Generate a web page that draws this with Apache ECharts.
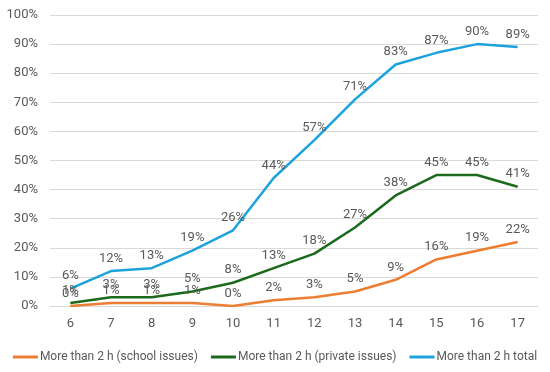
<!DOCTYPE html>
<html><head><meta charset="utf-8">
<script src="https://cdn.jsdelivr.net/npm/echarts@6/dist/echarts.min.js"></script>
<style>html,body{margin:0;padding:0;background:#fff}#c{width:550px;height:372px}</style>
</head><body><div id="c"></div>
<script>
const categories = ['6','7','8','9','10','11','12','13','14','15','16','17'];
const school = [0, 1, 1, 1, 0, 2, 3, 5, 9, 16, 19, 22];
const privateIssues = [1, 3, 3, 5, 8, 13, 18, 27, 38, 45, 45, 41];
const total = [6, 12, 13, 19, 26, 44, 57, 71, 83, 87, 90, 89];
const seriesNames = ['More than 2 h (school issues)', 'More than 2 h (private issues)', 'More than 2 h total'];
const colors = ['#ED7D31', '#1B6A1B', '#1EA2DC'];

const chart = echarts.init(document.getElementById('c'));
const font = 'Roboto, "Liberation Sans", sans-serif';
function mk(name, data, color) {
  return {
    name, type: 'line', data, symbol: 'circle', symbolSize: 0, showSymbol: true, smooth: false,
    lineStyle: {width: 2.5, color}, itemStyle: {color},
    labelLayout: {hideOverlap: false},
    label: {show: true, position: 'top', distance: 6, formatter: p => p.value + '%',
      color: '#595959', fontSize: 13, fontFamily: font}
  };
}
chart.setOption({
  animation: false,
  color: colors,
  grid: {left: 50, right: 12, top: 15, bottom: 66},
  legend: {bottom: 4, left: 'center', itemWidth: 25, itemHeight: 3, itemGap: 13,
    icon: 'rect',
    textStyle: {color: '#595959', fontSize: 12, fontFamily: font, padding: [0, 0, 0, -3]},
    data: seriesNames},
  xAxis: {type: 'category', data: categories, boundaryGap: true,
    axisLine: {show: true, lineStyle: {color: '#d9d9d9'}}, axisTick: {show: false},
    axisLabel: {color: '#595959', fontSize: 13, fontFamily: font, margin: 11}},
  yAxis: {type: 'value', min: 0, max: 100, interval: 10,
    axisLabel: {formatter: '{value}%', color: '#595959', fontSize: 13, fontFamily: font, margin: 12},
    splitLine: {lineStyle: {color: '#d9d9d9', width: 1}},
    axisLine: {show: false}, axisTick: {show: false}},
  series: [mk(seriesNames[0], school, colors[0]), mk(seriesNames[1], privateIssues, colors[1]), mk(seriesNames[2], total, colors[2])]
});
</script></body></html>
